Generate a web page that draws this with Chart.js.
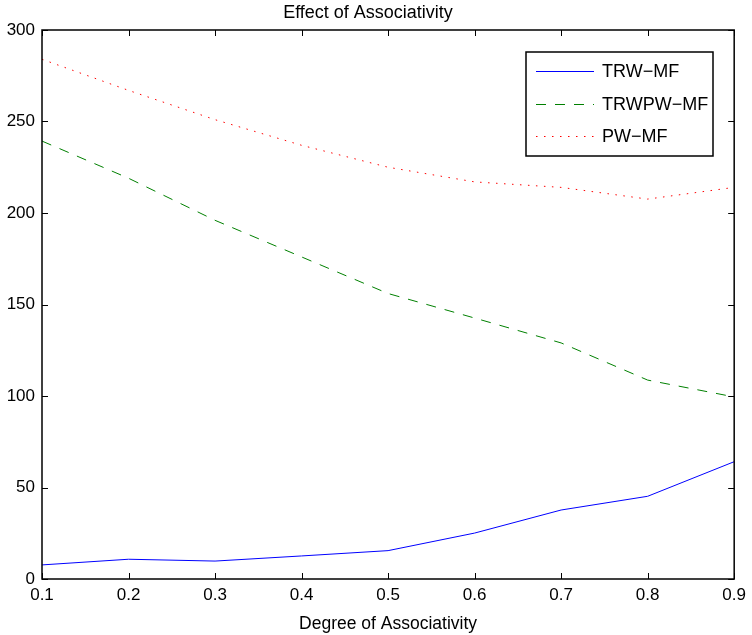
<!DOCTYPE html>
<html lang="en">
<head>
<meta charset="UTF-8">
<title>Effect of Associativity</title>
<script src="https://cdn.jsdelivr.net/npm/chart.js"></script>
<style>
  html, body { margin: 0; padding: 0; background: #fff; }
  #wrap { width: 752px; height: 635px; position: relative; }
</style>
</head>
<body>
<div id="wrap"><canvas id="chart"></canvas></div>
<script>
// data
const degrees = [0.1, 0.2, 0.3, 0.4, 0.5, 0.6, 0.7, 0.8, 0.9];
const trwMF   = [7.7, 10.8, 9.8, 12.6, 15.5, 25.1, 37.7, 45.2, 64.1];
const trwpwMF = [239.3, 219, 196, 176, 156, 142.6, 129, 108.7, 99.5];
const pwMF    = [284, 267, 251, 237, 225, 217, 214, 207.6, 214];
const yTicks  = [0, 50, 100, 150, 200, 250, 300];

const seriesNames  = ['TRW\u2212MF', 'TRWPW\u2212MF', 'PW\u2212MF'];
const seriesColors = ['#0000ff', '#008000', '#ff0000'];
const seriesDash   = [[], [10, 9], [1.5, 6.5]];

const FONT = "'Liberation Sans', Arial, Helvetica, sans-serif";

function pts(ys) { return degrees.map((x, i) => ({ x: x, y: ys[i] })); }

// box frame + inward ticks, matlab style, and the legend box
const framePlugin = {
  id: 'frame',
  afterDraw(chart) {
    const { ctx, chartArea: a, scales } = chart;
    ctx.save();
    ctx.strokeStyle = '#000';
    ctx.lineWidth = 1.5;
    ctx.strokeRect(a.left, a.top, a.right - a.left, a.bottom - a.top);
    const len = 6;
    ctx.lineWidth = 1;
    ctx.beginPath();
    scales.x.ticks.forEach(t => {
      const px = Math.round(scales.x.getPixelForValue(t.value)) + 0.5;
      ctx.moveTo(px, a.bottom); ctx.lineTo(px, a.bottom - len);
      ctx.moveTo(px, a.top); ctx.lineTo(px, a.top + len);
    });
    scales.y.ticks.forEach(t => {
      const py = Math.round(scales.y.getPixelForValue(t.value)) + 0.5;
      ctx.moveTo(a.left, py); ctx.lineTo(a.left + len, py);
      ctx.moveTo(a.right, py); ctx.lineTo(a.right - len, py);
    });
    ctx.stroke();

    // legend
    const bx = 526, by = 52, bw = 187, bh = 104;
    ctx.fillStyle = '#fff';
    ctx.fillRect(bx, by, bw, bh);
    ctx.lineWidth = 1.5;
    ctx.strokeRect(bx, by, bw, bh);
    ctx.font = '18px ' + FONT;
    ctx.textBaseline = 'middle';
    seriesNames.forEach((name, i) => {
      const y = Math.round(by + 19 + i * 32.5) + 0.5;
      ctx.setLineDash(seriesDash[i]);
      ctx.strokeStyle = seriesColors[i];
      ctx.lineWidth = 1;
      ctx.beginPath();
      ctx.moveTo(bx + 10, y); ctx.lineTo(bx + 68, y);
      ctx.stroke();
      ctx.setLineDash([]);
      ctx.fillStyle = '#000';
      ctx.fillText(name, bx + 76, y + 1);
    });
    ctx.restore();
  }
};

new Chart(document.getElementById('chart'), {
  type: 'line',
  data: {
    datasets: [trwMF, trwpwMF, pwMF].map((ys, i) => ({
      label: seriesNames[i],
      data: pts(ys),
      borderColor: seriesColors[i],
      borderWidth: 1,
      borderDash: seriesDash[i],
      pointRadius: 0
    }))
  },
  options: {
    responsive: true,
    maintainAspectRatio: false,
    animation: false,
    layout: { padding: { left: 0, right: 16, top: 0, bottom: 0 } },
    plugins: {
      legend: { display: false },
      tooltip: { enabled: false },
      title: {
        display: true,
        text: 'Effect of Associativity',
        color: '#000',
        font: { family: FONT, size: 18, weight: 'normal' },
        padding: { top: 2, bottom: 6.4 }
      }
    },
    scales: {
      x: {
        type: 'linear',
        min: 0.1, max: 0.9,
        grid: { display: false, drawTicks: false },
        border: { display: false },
        ticks: {
          stepSize: 0.1,
          padding: 6,
          color: '#000',
          font: { family: FONT, size: 17 },
          maxRotation: 0,
          callback: v => v.toFixed(1)
        },
        title: {
          display: true,
          text: 'Degree of Associativity',
          color: '#000',
          font: { family: FONT, size: 17.5 },
          padding: { top: 4, bottom: 0 }
        },
        afterFit(s) { s.height = 56; }
      },
      y: {
        min: 0, max: 300,
        grid: { display: false, drawTicks: false },
        border: { display: false },
        afterBuildTicks(s) { s.ticks = yTicks.map(v => ({ value: v })); },
        ticks: {
          padding: 7,
          color: '#000',
          font: { family: FONT, size: 17 }
        },
        afterFit(s) { s.width = 42; }
      }
    }
  },
  plugins: [framePlugin]
});
</script>
</body>
</html>
